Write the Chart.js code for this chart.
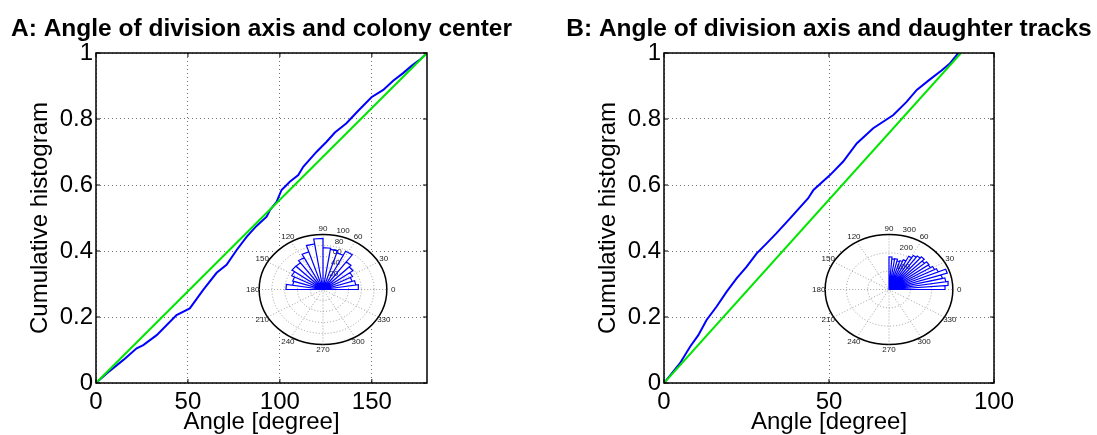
<!DOCTYPE html>
<html>
<head>
<meta charset="utf-8">
<script src="https://cdn.jsdelivr.net/npm/chart.js@4"></script>
<style>
    body { margin: 0; background: #fff; }
    #wrap { position: relative; width: 1097px; height: 435px; }
    canvas { position: absolute; }
</style>
</head>
<body>
<div id="wrap">
    <canvas id="chartA" width="548" height="435" style="left:0;top:0"></canvas>
    <canvas id="chartB" width="549" height="435" style="left:548px;top:0"></canvas>
    <canvas id="roseA" width="166" height="143" style="left:240px;top:218px"></canvas>
    <canvas id="roseB" width="166" height="143" style="left:806px;top:218px"></canvas>
</div>
<script>
// Panel A: angle between division axis and colony center (cumulative)
const cumAngleA = [0, 5.8, 14.9, 22.1, 25.7, 33, 43.8, 51, 58.3, 65.6, 71, 76.5, 81.9, 87.3, 92.8, 94.6, 98.2, 100.9, 105.4, 110, 112.7, 120, 125.4, 129.9, 136.2, 142.6, 149.8, 156.2, 161.6, 167, 171.6, 176, 180];
const cumFracA = [0, 0.029, 0.070, 0.105, 0.115, 0.145, 0.206, 0.226, 0.282, 0.334, 0.358, 0.403, 0.443, 0.476, 0.504, 0.524, 0.549, 0.585, 0.610, 0.630, 0.655, 0.701, 0.731, 0.759, 0.787, 0.825, 0.866, 0.888, 0.916, 0.939, 0.961, 0.979, 1];

// Panel B: angle between division axis and daughter tracks (cumulative)
const cumAngleB = [0, 4.85, 7.9, 10.4, 12.9, 15.9, 19, 22, 25, 28.1, 31.1, 34.1, 38.2, 43.7, 45.3, 50.3, 54.3, 58.4, 63.4, 69.5, 73.5, 76.6, 80.6, 84.1, 86.7, 89.2];
const cumFracB = [0, 0.060, 0.110, 0.145, 0.191, 0.231, 0.277, 0.317, 0.352, 0.393, 0.423, 0.454, 0.499, 0.560, 0.585, 0.630, 0.671, 0.726, 0.772, 0.812, 0.852, 0.888, 0.920, 0.947, 0.969, 1.0];

const xTicksA = [0, 50, 100, 150];
const xTicksB = [0, 50, 100];
const yTicks = [0, 0.2, 0.4, 0.6, 0.8, 1];

// rose insets: counts per bin, bins start at 0 degrees
const roseCountsA = [56, 52, 48, 52, 58, 62, 78, 70, 74, 76, 93, 84, 72, 65, 60, 60, 55, 50, 48, 58]; // over 0-180
const roseCountsB = [264, 281, 270, 258, 288, 250, 240, 228, 232, 220, 234, 226, 218, 204, 175, 165, 160, 170, 168, 178]; // over 0-90
const roseRingsA = [20, 40, 60, 80, 100];
const roseRingsB = [100, 200, 300];
const polarAngles = [0, 30, 60, 90, 120, 150, 180, 210, 240, 270, 300, 330];

const FONT = "'Liberation Sans', Arial, Helvetica, sans-serif";

// box, inward ticks and bold title, matlab style
function framePlugin(title) {
    return {
        id: 'frame',
        afterDraw(chart) {
            const { ctx, chartArea: a, scales: { x, y } } = chart;
            ctx.save();
            ctx.strokeStyle = '#000';
            ctx.lineWidth = 1;
            x.ticks.forEach(t => {
                const p = x.getPixelForValue(t.value);
                ctx.beginPath();
                ctx.moveTo(p, a.bottom); ctx.lineTo(p, a.bottom - 4);
                ctx.moveTo(p, a.top); ctx.lineTo(p, a.top + 4);
                ctx.stroke();
            });
            y.ticks.forEach(t => {
                const p = y.getPixelForValue(t.value);
                ctx.beginPath();
                ctx.moveTo(a.left, p); ctx.lineTo(a.left + 4, p);
                ctx.moveTo(a.right, p); ctx.lineTo(a.right - 4, p);
                ctx.stroke();
            });
            ctx.lineWidth = 1.5;
            ctx.strokeRect(a.left, a.top, a.right - a.left, a.bottom - a.top);

            ctx.fillStyle = '#000';
            ctx.font = 'bold 24.5px ' + FONT;
            ctx.textAlign = 'center';
            ctx.textBaseline = 'alphabetic';
            ctx.fillText(title, (a.left + a.right) / 2, 36);
            ctx.restore();
        }
    };
}

function mainChart(id, title, xs, ys, xMax, xTicks, diagEnd, padLeft, padRight) {
    return new Chart(document.getElementById(id), {
        type: 'scatter',
        data: {
            datasets: [
                { data: [{ x: 0, y: 0 }, { x: diagEnd, y: 1 }], borderColor: '#00e600', borderWidth: 2, showLine: true, pointRadius: 0 },
                { data: xs.map((x, i) => ({ x, y: ys[i] })), borderColor: '#0000ff', borderWidth: 2, showLine: true, pointRadius: 0 }
            ]
        },
        options: {
            responsive: false,
            animation: false,
            layout: { padding: { left: padLeft, right: padRight, top: 53, bottom: 0 } },
            plugins: { legend: { display: false }, tooltip: { enabled: false } },
            scales: {
                x: {
                    type: 'linear', min: 0, max: xMax,
                    afterBuildTicks: s => { s.ticks = xTicks.map(v => ({ value: v })); },
                    afterFit: s => { s.height = 52; s.paddingLeft = 0; s.paddingRight = 0; },
                    grid: { color: 'rgba(0,0,0,0.55)', drawTicks: false },
                    border: { display: false, dash: [1, 3] },
                    ticks: { color: '#000', font: { family: FONT, size: 24 }, padding: 5, maxRotation: 0, callback: v => String(v) },
                    title: { display: true, text: 'Angle [degree]', color: '#000', font: { family: FONT, size: 24, lineHeight: 1 }, padding: { top: 0, bottom: 1 } }
                },
                y: {
                    type: 'linear', min: 0, max: 1,
                    afterBuildTicks: s => { s.ticks = yTicks.map(v => ({ value: v })); },
                    afterFit: s => { s.width = 80; s.paddingTop = 0; s.paddingBottom = 0; },
                    grid: { color: 'rgba(0,0,0,0.55)', drawTicks: false },
                    border: { display: false, dash: [1, 3] },
                    ticks: { color: '#000', font: { family: FONT, size: 24 }, padding: 3, callback: v => String(v) },
                    title: { display: true, text: 'Cumulative histogram', color: '#000', font: { family: FONT, size: 24 }, padding: { top: 10, bottom: 0 } }
                }
            }
        },
        plugins: [framePlugin(title)]
    });
}

// wedge outline like matlab rose(): centre -> bin start -> bin end -> centre
function roseOutline(counts, span) {
    const w = span / counts.length;
    const pts = [{ x: 0, y: 0 }];
    counts.forEach((c, i) => {
        const a1 = i * w * Math.PI / 180;
        const a2 = (i + 1) * w * Math.PI / 180;
        pts.push({ x: c * Math.cos(a1), y: c * Math.sin(a1) });
        pts.push({ x: c * Math.cos(a2), y: c * Math.sin(a2) });
        pts.push({ x: 0, y: 0 });
    });
    return pts;
}

function polarGrid(rings) {
    const rmax = rings[rings.length - 1];
    const rinc = rings[0];
    return {
        id: 'polarGrid',
        beforeDatasetsDraw(chart) {
            const { ctx, scales: { x, y } } = chart;
            const cx = x.getPixelForValue(0), cy = y.getPixelForValue(0);
            const rx = r => x.getPixelForValue(r) - cx;
            const ry = r => cy - y.getPixelForValue(r);
            const rad = d => d * Math.PI / 180;
            ctx.save();
            ctx.beginPath();
            ctx.ellipse(cx, cy, rx(rmax), ry(rmax), 0, 0, 2 * Math.PI);
            ctx.fillStyle = '#fff';
            ctx.fill();
            ctx.strokeStyle = '#000';
            ctx.lineWidth = 1.5;
            ctx.stroke();

            ctx.setLineDash([1, 2]);
            ctx.strokeStyle = '#8a8a8a';
            ctx.lineWidth = 0.8;
            rings.slice(0, -1).forEach(r => {
                ctx.beginPath();
                ctx.ellipse(cx, cy, rx(r), ry(r), 0, 0, 2 * Math.PI);
                ctx.stroke();
            });
            polarAngles.slice(0, 6).forEach(d => {
                const c = Math.cos(rad(d)) * rmax, s = Math.sin(rad(d)) * rmax;
                ctx.beginPath();
                ctx.moveTo(x.getPixelForValue(-c), y.getPixelForValue(-s));
                ctx.lineTo(x.getPixelForValue(c), y.getPixelForValue(s));
                ctx.stroke();
            });
            ctx.setLineDash([]);

            ctx.fillStyle = '#222';
            ctx.font = '8px ' + FONT;
            ctx.textAlign = 'center';
            ctx.textBaseline = 'middle';
            polarAngles.forEach(d => {
                const r = 1.1 * rmax;
                ctx.fillText(String(d), x.getPixelForValue(r * Math.cos(rad(d))), y.getPixelForValue(r * Math.sin(rad(d))));
            });
            ctx.textAlign = 'left';
            ctx.textBaseline = 'bottom';
            rings.forEach(v => {
                const r = v + rinc / 20;
                ctx.fillText('  ' + v, x.getPixelForValue(r * Math.cos(rad(82))), y.getPixelForValue(r * Math.sin(rad(82))));
            });
            ctx.restore();
        }
    };
}

function roseChart(id, counts, span, rings) {
    const lim = 1.3 * rings[rings.length - 1];
    return new Chart(document.getElementById(id), {
        type: 'scatter',
        data: {
            datasets: [{ data: roseOutline(counts, span), borderColor: '#0000ff', borderWidth: 1.2, showLine: true, pointRadius: 0 }]
        },
        options: {
            responsive: false,
            animation: false,
            layout: { padding: 0 },
            plugins: { legend: { display: false }, tooltip: { enabled: false } },
            scales: {
                x: { type: 'linear', display: false, min: -lim, max: lim },
                y: { type: 'linear', display: false, min: -lim, max: lim }
            }
        },
        plugins: [polarGrid(rings)]
    });
}

mainChart('chartA', 'A: Angle of division axis and colony center', cumAngleA, cumFracA, 180, xTicksA, 180, 16, 121);
mainChart('chartB', 'B: Angle of division axis and daughter tracks', cumAngleB, cumFracB, 100, xTicksB, 90, 36, 103);
roseChart('roseA', roseCountsA, 180, roseRingsA);
roseChart('roseB', roseCountsB, 90, roseRingsB);
</script>
</body>
</html>
